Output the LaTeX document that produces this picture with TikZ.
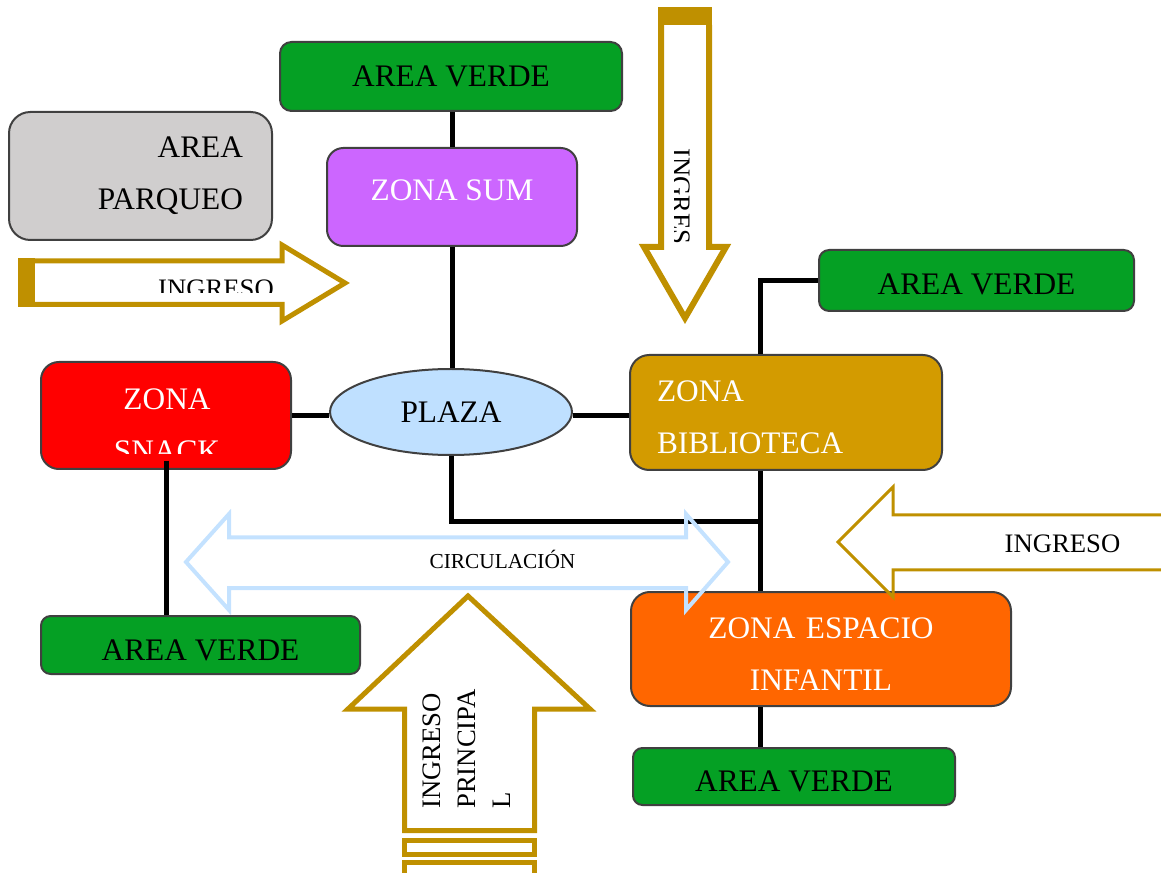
\documentclass[tikz,border=0pt]{standalone}
\usepackage{fontspec}
\setmainfont{Liberation Serif}
\usepackage{xcolor}
\usetikzlibrary{shapes.geometric}
\definecolor{verde}{HTML}{05A024}
\definecolor{sumcol}{HTML}{CC66FF}
\definecolor{parqcol}{HTML}{D0CECE}
\definecolor{bibcol}{HTML}{D39B00}
\definecolor{infcol}{HTML}{FF6600}
\definecolor{plazacol}{HTML}{BFE0FF}
\definecolor{circcol}{HTML}{C4E2FF}
\definecolor{oro}{HTML}{BF9000}
\definecolor{edge}{HTML}{404040}
\newcommand{\fbig}{\fontsize{23.5}{39}\selectfont}
\newcommand{\fmid}{\fontsize{20}{26.25}\selectfont}
\newcommand{\fsml}{\fontsize{16}{20}\selectfont}
\tikzset{
  zone/.style={rectangle, draw=edge, line width=1.5pt, inner sep=0pt, align=center, font=\fbig},
  verdebox/.style={zone, fill=verde, text=black},
  plazashape/.style={ellipse, draw=edge, line width=1.5pt, fill=plazacol, inner sep=0pt, font=\fbig},
  link/.style={line width=3.75pt, draw=black},
  ingarrow/.style={draw=oro, line width=3.75pt},
  circarrow/.style={draw=circcol, line width=3pt},
}

\begin{document}
\begin{tikzpicture}[x=0.75pt, y=-0.75pt]
\useasboundingbox (0,0) rectangle (1161,873);
% zonas
\node[verdebox, minimum width=256.5pt, minimum height=51.75pt, rounded corners=8.6pt] (av1) at (451,76.5) {AREA VERDE};
\node[zone, fill=sumcol, text=white, minimum width=187.5pt, minimum height=73.5pt, rounded corners=12.25pt, text depth=10.5pt] (sum) at (452,197) {ZONA SUM};
\node[zone, fill=parqcol, minimum width=197.25pt, minimum height=96pt, rounded corners=16pt, text width=153.75pt, align=right] (parqueo) at (140.5,176) {AREA\\PARQUEO};
\node[zone, fill=red, minimum width=187.5pt, minimum height=80.25pt, rounded corners=13.4pt] (snack) at (166,415.5) {};
\node[plazashape, minimum width=181.5pt, minimum height=64.5pt] (plaza) at (451,412) {PLAZA};
\node[zone, fill=bibcol, text=white, minimum width=234pt, minimum height=86.25pt, rounded corners=14.4pt, text width=193.5pt, align=left, text height=23.3pt] (biblio) at (786,412.5) {ZONA\\BIBLIOTECA};
\node[verdebox, minimum width=236.25pt, minimum height=45.75pt, rounded corners=7.6pt, text height=21pt] (av2) at (976.5,280.5) {AREA VERDE};
\node[zone, fill=infcol, text=white, minimum width=285pt, minimum height=85.5pt, rounded corners=14.25pt, text width=220pt, text height=22.6pt] (infantil) at (821,649) {ZONA ESPACIO\\INFANTIL};
\node[verdebox, minimum width=239.25pt, minimum height=43.5pt, rounded corners=7.25pt, text height=23.3pt] (av3) at (200.5,645) {AREA VERDE};
\node[verdebox, minimum width=241.5pt, minimum height=42.75pt, rounded corners=7.1pt, text height=22.6pt] (av4) at (794,776.5) {AREA VERDE};
\begin{scope}
  \clip (45,366) rectangle (288,454); % texto cortado
  \node[font=\fbig, text=white, align=center, anchor=north, inner sep=0pt] (snacktxt) at (167,388) {ZONA\\SNACK};
\end{scope}
% conexiones
\coordinate (spine) at (760,522);
\draw[link] (av1.south -| sum.north) -- (sum.north);
\draw[link] (sum.south) -- (sum.south |- plaza.north);
\draw[link] (snack.east) -- (snack.east -| plaza.west);
\draw[link] (snack.east -| plaza.east) -- (snack.east -| biblio.west);
\draw[link] (plaza.south) |- (spine);
\draw[link] (biblio.south -| spine) -- (infantil.north -| spine);
\draw[link] (infantil.south -| spine) -- (av4.north -| spine);
\draw[link] (biblio.north -| spine) |- (av2.west);
\draw[link] ([yshift=7pt]snack.south) -- (snack.south |- av3.north);
% flechas de ingreso
\fill[oro] (658,7) rectangle (712,25);
\draw[ingarrow, line width=4.5pt] (661,25) -- (661,247) -- (644,247) -- (685,318) -- (726,247) -- (709,247) -- (709,25);
\fill[oro] (18,258.5) rectangle (35,307);
\draw[ingarrow] (35,261) -- (282,261) -- (282,245) -- (345,283) -- (282,321) -- (282,304.5) -- (35,304.5);
\draw[ingarrow, line width=2.25pt] (1175,515) -- (893,515) -- (893,487) -- (838,542) -- (893,597) -- (893,570) -- (1175,570);
\draw[ingarrow] (404.5,830.5) -- (404.5,709) -- (348,709) -- (468,596) -- (590,709) -- (534.5,709) -- (534.5,830.5) -- cycle;
\draw[ingarrow] (404.5,840) rectangle (534.5,854.5);
\draw[ingarrow] (404.5,862) rectangle (534.5,885);
\draw[circarrow] (186,562) -- (229,514) -- (229,537.5) -- (686,537.5) -- (686,514) -- (728,562) -- (686,610) -- (686,588) -- (229,588) -- (229,610) -- cycle;
% textos de flechas
\node[font=\fsml, anchor=base] (circ) at (502.5,568) {CIRCULACIÓN};
\node[font=\fmid, anchor=base] (ingder) at (1062.5,552) {INGRESO};
\begin{scope}
  \clip (40,264) rectangle (280,293);
  \node[font=\fmid, anchor=base] (ingizq) at (216,298) {INGRESO};
\end{scope}
\begin{scope}
  \clip (674,30) rectangle (706,245);
  \node[font=\fmid, rotate=-90, anchor=base west, inner sep=0pt] (ingsup) at (672,148) {INGRESO};
\end{scope}
\node[font=\fmid, rotate=90, anchor=north west, inner sep=0pt, align=left] (ingpri) at (423,809) {INGRESO\\PRINCIPA\\L};
\end{tikzpicture}
\end{document}
